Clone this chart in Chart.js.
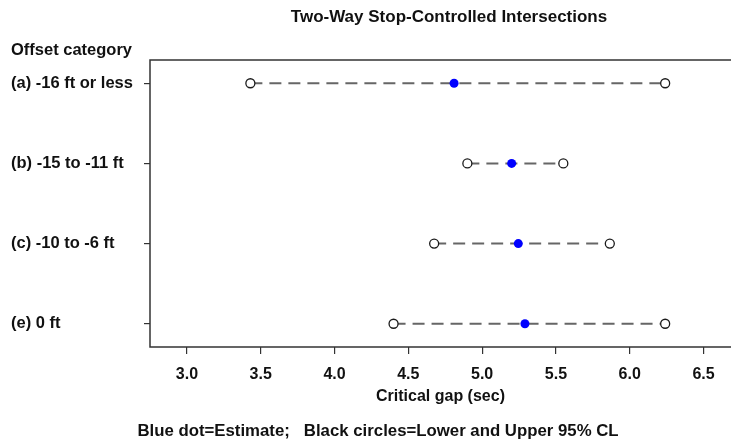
<!DOCTYPE html>
<html>
<head>
<meta charset="utf-8">
<script src="https://cdn.jsdelivr.net/npm/chart.js@4.4.1/dist/chart.umd.min.js"></script>
<style>
  html, body { margin: 0; padding: 0; background: #fff; }
  #wrap { width: 731px; height: 442px; }
</style>
</head>
<body>
<div id="wrap"><canvas id="chart" width="731" height="442"></canvas></div>
<script>
// Critical gap by offset category
const categories = ["(a) -16 ft or less", "(b) -15 to -11 ft", "(c) -10 to -6 ft", "(e) 0 ft"];
const estimate = [4.81, 5.20, 5.245, 5.29];
const lowerCL = [3.43, 4.90, 4.675, 4.40];
const upperCL = [6.24, 5.55, 5.865, 6.24];
const xTicks = [3.0, 3.5, 4.0, 4.5, 5.0, 5.5, 6.0, 6.5];

const FONT = "'Liberation Sans', Arial, Helvetica, sans-serif";
const AXIS = "#333333";

const rangeLines = categories.map((c, i) => ({
  type: "line",
  data: [{ x: lowerCL[i], y: i }, { x: upperCL[i], y: i }],
  borderColor: "#666666",
  borderWidth: 2,
  borderDash: [12, 7],
  pointRadius: 0,
  fill: false,
  order: 3
}));

const clPoints = [];
categories.forEach((c, i) => {
  clPoints.push({ x: lowerCL[i], y: i });
  clPoints.push({ x: upperCL[i], y: i });
});

// titles, box (open on the cropped right side) and notes
const decorations = {
  id: "decorations",
  afterDraw(chart) {
    const { ctx, chartArea } = chart;
    ctx.save();
    ctx.strokeStyle = AXIS;
    ctx.lineWidth = 1.5;
    ctx.beginPath();
    ctx.moveTo(chartArea.right + 2, chartArea.top);
    ctx.lineTo(chartArea.left, chartArea.top);
    ctx.lineTo(chartArea.left, chartArea.bottom);
    ctx.lineTo(chartArea.right + 2, chartArea.bottom);
    ctx.stroke();
    ctx.fillStyle = "#111";
    ctx.textBaseline = "middle";
    ctx.font = "bold 17px " + FONT;
    ctx.textAlign = "center";
    ctx.fillText("Two-Way Stop-Controlled Intersections", 449, 17);
    ctx.font = "bold 16.5px " + FONT;
    ctx.textAlign = "left";
    ctx.fillText("Offset category", 11, 50);
    ctx.font = "bold 16.8px " + FONT;
    ctx.textAlign = "center";
    ctx.fillText("Blue dot=Estimate;   Black circles=Lower and Upper 95% CL", 378, 431);
    ctx.restore();
  }
};

new Chart(document.getElementById("chart"), {
  type: "scatter",
  data: {
    datasets: [
      ...rangeLines,
      {
        label: "95% CL",
        data: clPoints,
        pointRadius: 4.5,
        pointBorderWidth: 1.3,
        pointBorderColor: "#1a1a1a",
        pointBackgroundColor: "#fff",
        order: 2
      },
      {
        label: "Estimate",
        data: estimate.map((v, i) => ({ x: v, y: i })),
        pointRadius: 4.5,
        pointBorderWidth: 0,
        pointBackgroundColor: "#0000ff",
        order: 1
      }
    ]
  },
  plugins: [decorations],
  options: {
    responsive: false,
    animation: false,
    layout: { autoPadding: false, padding: { top: 60, left: 11, right: 0, bottom: 36 } },
    plugins: {
      legend: { display: false },
      tooltip: { enabled: false }
    },
    scales: {
      x: {
        type: "linear",
        min: 2.75,
        max: 6.686,
        afterBuildTicks: (scale) => { scale.ticks = xTicks.map(v => ({ value: v })); },
        afterFit: (scale) => { scale.height = 59; scale.paddingRight = 0; scale.paddingLeft = 0; },
        border: { display: false },
        grid: { drawOnChartArea: false, drawTicks: true, tickLength: 7, color: AXIS, lineWidth: 1.2 },
        ticks: {
          color: "#111",
          padding: 11,
          maxRotation: 0,
          font: { family: FONT, size: 16, weight: "bold" },
          callback: (v) => Number(v).toFixed(1)
        },
        title: {
          display: true,
          text: "Critical gap (sec)",
          color: "#111",
          padding: { top: 2, bottom: 0 },
          font: { family: FONT, size: 16, weight: "bold" }
        }
      },
      y: {
        type: "linear",
        reverse: true,
        min: -0.29,
        max: 3.29,
        afterBuildTicks: (scale) => { scale.ticks = categories.map((c, i) => ({ value: i })); },
        afterFit: (scale) => { scale.width = 139; },
        border: { display: false },
        grid: { drawOnChartArea: false, drawTicks: true, tickLength: 6, color: AXIS, lineWidth: 1.2 },
        ticks: {
          color: "#111",
          crossAlign: "far",
          font: { family: FONT, size: 16.5, weight: "bold" },
          callback: (v) => categories[v]
        }
      }
    }
  }
});
</script>
</body>
</html>
